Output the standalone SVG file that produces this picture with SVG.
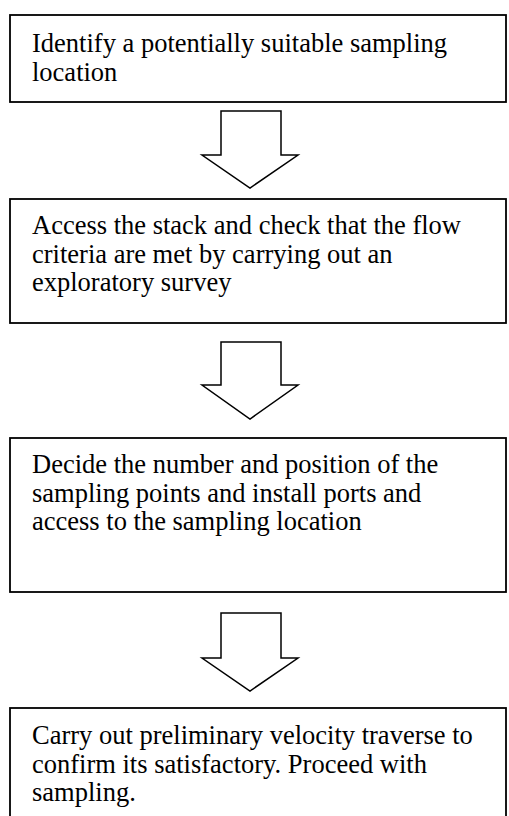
<svg xmlns="http://www.w3.org/2000/svg" width="509" height="816" viewBox="0 0 509 816">
<style>
.box{fill:#fff;stroke:#000;stroke-width:1.8}
.arr{fill:#fff;stroke:#000;stroke-width:1.5;stroke-linejoin:miter}
.t{font-family:"Liberation Serif","Times New Roman",serif;font-size:26.5px;fill:#000}
</style>
<rect width="509" height="816" fill="#fff"/>
<g id="node1">
<rect class="box" x="10" y="15" width="496" height="87"/>
<text class="t" x="32" y="52">Identify a potentially suitable sampling</text>
<text class="t" x="32" y="81">location</text>
</g>
<g id="node2">
<rect class="box" x="10" y="199" width="496" height="124"/>
<text class="t" x="32" y="234">Access the stack and check that the flow</text>
<text class="t" x="32" y="262.5">criteria are met by carrying out an</text>
<text class="t" x="32" y="291">exploratory survey</text>
</g>
<g id="node3">
<rect class="box" x="10" y="438" width="496" height="154"/>
<text class="t" x="32" y="473">Decide the number and position of the</text>
<text class="t" x="32" y="501.5">sampling points and install ports and</text>
<text class="t" x="32" y="530">access to the sampling location</text>
</g>
<g id="node4">
<rect class="box" x="10" y="708" width="496" height="130"/>
<text class="t" x="32" y="744">Carry out preliminary velocity traverse to</text>
<text class="t" x="32" y="772.5">confirm its satisfactory. Proceed with</text>
<text class="t" x="32" y="801">sampling.</text>
</g>
<g id="connectors">
<polygon class="arr" points="221,111 281,111 281,155 298,155 250,188 202,155 221,155"/>
<polygon class="arr" points="221,342 281,342 281,385 298,385 250,419 202,385 221,385"/>
<polygon class="arr" points="221,613 281,613 281,658 298,658 250,691 202,658 221,658"/>
</g>
</svg>
